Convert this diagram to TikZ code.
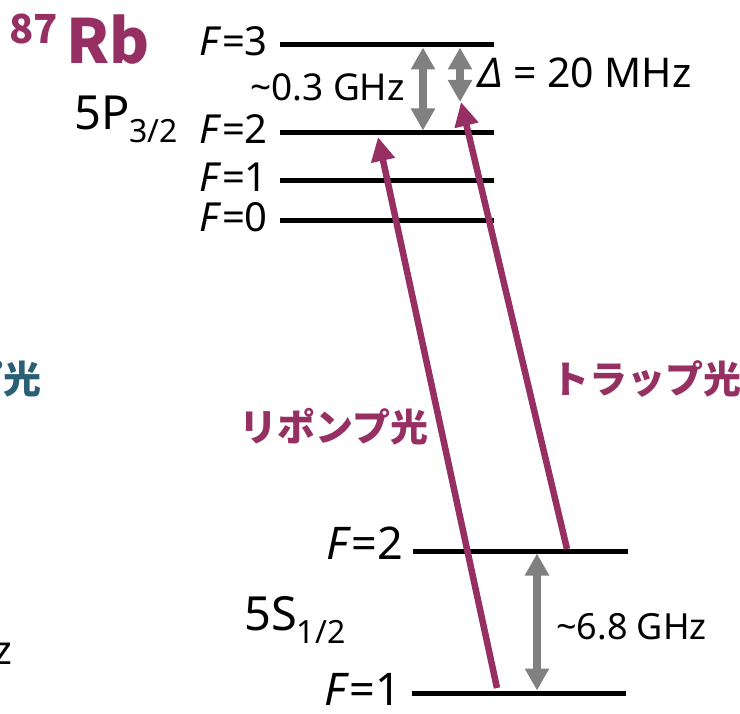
\documentclass[tikz,border=0pt]{standalone}
\usepackage{fontspec}
\setmainfont{Noto Sans}
\newfontfamily\jpfont{Noto Sans CJK JP}
\usetikzlibrary{arrows.meta, positioning}
\definecolor{rbpurple}{RGB}{150,48,99}
\definecolor{gapgray}{RGB}{128,128,128}
\definecolor{cutteal}{RGB}{42,96,117}
\newcommand{\fsz}[1]{\fontsize{#1}{#1}\selectfont}
\tikzset{
  level/.style={line width=5pt},
  flabel/.style={anchor=east, inner sep=0pt, font=\fsz{40}},
  glabel/.style={anchor=east, inner sep=0pt, font=\fsz{45}},
  gaparrow/.style={gapgray, line width=7.5pt, shorten <=2.5pt, shorten >=2.5pt,
    {Triangle[length=22pt,width=23pt]}-{Triangle[length=22pt,width=23pt]}},
  laser/.style={rbpurple, line width=6.5pt, -{Triangle[length=24pt,width=23pt]}},
  gaptext/.style={anchor=west, inner sep=0pt},
  jptext/.style={inner sep=0pt, text=rbpurple, font=\jpfont\bfseries\fsz{38}}
}

\begin{document}
\begin{tikzpicture}[x=1pt, y=-1pt]
  \useasboundingbox (0,0) rectangle (740,714);
  \clip (0,0) rectangle (740,714);

  % 5P_{3/2} hyperfine levels
  \foreach \name/\y/\f in {e3/45/3, e2/133/2, e1/181/1, e0/221/0} {
    \coordinate (\name w) at (280,\y);
    \coordinate (\name e) at (494,\y);
    \draw[level] (\name w) -- (\name e);
    \node[flabel] (\name lab) at (268,\y-4) {\textit{F}=\f};
  }
  % 5S_{1/2} hyperfine levels
  \coordinate (g2w) at (413,551);
  \coordinate (g2e) at (628,551);
  \coordinate (g1w) at (412,693);
  \coordinate (g1e) at (626,693);
  \draw[level] (g2w) -- (g2e);
  \draw[level] (g1w) -- (g1e);
  \node[glabel] (g2lab) at (403,543) {\textit{F}=2};
  \node[glabel] (g1lab) at (401,689) {\textit{F}=1};

  \node[anchor=base west, inner sep=0pt, text=rbpurple, font=\jpfont\bfseries\fsz{61}] (rb) at (66,64) {Rb};
  \node[anchor=base east, inner sep=0pt, text=rbpurple, font=\jpfont\bfseries\fsz{40}] (mass) at (58,44) {87};
  \node[anchor=base west, inner sep=0pt, font=\fsz{47}] (p32) at (74,130) {5P\raisebox{-13pt}{\fsz{32}3/2}};
  \node[anchor=base west, inner sep=0pt, font=\fsz{47}] (s12) at (244,630) {5S\raisebox{-13pt}{\fsz{32}1/2}};

  % splittings
  \coordinate (hfs) at (423,0);
  \coordinate (det) at (460,0);
  \coordinate (gfs) at (537,0);
  \draw[gaparrow] (hfs |- e3w) -- (hfs |- e2w);
  \draw[gaparrow] (det |- e3w) -- (460,104.5);
  \draw[gaparrow] (gfs |- g2w) -- (gfs |- g1w);
  \node[gaptext, anchor=east, font=\fsz{37}] (hfslab) at (405,87) {\textasciitilde0.3 GHz};
  \node[gaptext, font=\fsz{41}] (detlab) at (478,73) {\textit{Δ} = 20 MHz};
  \node[gaptext, font=\fsz{36}] (gfslab) at (556,627) {\textasciitilde6.8 GHz};

  % lasers
  \coordinate (repfoot) at (497,688);
  \coordinate (reptip) at (378,137);
  \coordinate (trapfoot) at (567,549);
  \coordinate (traptip) at (461,102);
  \draw[laser] (repfoot) -- (reptip);
  \draw[laser] (trapfoot) -- (traptip);
  \node[jptext] (replab) at (334,427) {リポンプ光};
  \node[jptext] (traplab) at (646,379) {トラップ光};

  % cut off at the left edge
  \node[anchor=east, inner sep=0pt, text=cutteal, font=\jpfont\bfseries\fsz{38}] (cutlab) at (42,379) {プ光};
  \node[anchor=east, inner sep=0pt, font=\fsz{40}] (cutunit) at (13,650) {GHz};
\end{tikzpicture}
\end{document}
